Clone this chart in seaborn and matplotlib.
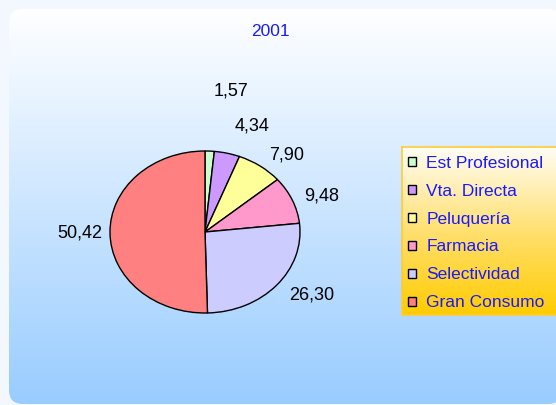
import numpy as np
import matplotlib
matplotlib.use('Agg')
import matplotlib.pyplot as plt
import seaborn as sns
from matplotlib.patches import FancyBboxPatch
from matplotlib.colors import LinearSegmentedColormap

# dati del grafico
categorie = ['Est Profesional', 'Vta. Directa', 'Peluquería', 'Farmacia', 'Selectividad', 'Gran Consumo']
valori = [1.57, 4.34, 7.90, 9.48, 26.30, 50.42]
etichette = ['1,57', '4,34', '7,90', '9,48', '26,30', '50,42']
titolo = '2001'

colori = sns.color_palette(['#ccffcc', '#cc99ff', '#ffff99', '#ff99cc', '#ccccff', '#ff8080'])
# distanza radiale delle etichette (Excel le sposta per non sovrapporle)
dist_etichette = [1.74, 1.35, 1.16, 1.13, 1.18, 1.08]

sns.set_style('white')
plt.rcParams['font.family'] = ['Liberation Sans', 'DejaVu Sans']

W, H = 556, 405
fig = plt.figure(figsize=(W / 100, H / 100), dpi=100)
fig.patch.set_facecolor('#f3f8fe')

# sfondo arrotondato con sfumatura bianco -> azzurro
bg = fig.add_axes([0, 0, 1, 1], zorder=0)
bg.set_xlim(0, W)
bg.set_ylim(H, 0)
bg.axis('off')
grad = np.linspace(0, 1, 256).reshape(-1, 1)
cmap_bg = LinearSegmentedColormap.from_list('bg', ['#ffffff', '#99ccff'])
im = bg.imshow(grad, cmap=cmap_bg, extent=[9, 562, 404, 9], aspect='auto')
box = FancyBboxPatch((9, 9), 562 - 9, 404 - 9, boxstyle='round,pad=0,rounding_size=14',
                     facecolor='none', edgecolor='none', transform=bg.transData)
bg.add_patch(box)
im.set_clip_path(box)

# torta (ellittica come in Excel)
ax = fig.add_axes([110 / W, 1 - 313 / H, 190 / W, 162 / H], zorder=2)
wedges, _ = ax.pie(valori, colors=colori, startangle=90, counterclock=False,
                   wedgeprops=dict(edgecolor='black', linewidth=1))
ax.set_aspect('auto')
ax.set_xlim(-1, 1)
ax.set_ylim(-1, 1)
ax.axis('off')

for w, txt, r in zip(wedges, etichette, dist_etichette):
    ang = np.deg2rad((w.theta1 + w.theta2) / 2)
    x, y = r * np.cos(ang), r * np.sin(ang)
    ax.text(x, y, txt, ha='left' if x > 0 else 'right', va='center',
            fontsize=13, color='black')

fig.text(270 / W, 1 - 31 / H, titolo, ha='center', va='center', color='#1a1aff', fontsize=12.5)

# riquadro legenda con sfumatura bianco -> oro
lg = fig.add_axes([402 / W, 1 - 315 / H, (562 - 402) / W, 168 / H], zorder=1)
lg.imshow(np.linspace(0, 1, 256).reshape(-1, 1),
          cmap=LinearSegmentedColormap.from_list('lg', ['#fffdf5', '#ffe070', '#ffcc00']),
          extent=[0, 1, 0, 1], aspect='auto')
lg.set_xticks([])
lg.set_yticks([])
for s in lg.spines.values():
    s.set_color('#ffcc33')
    s.set_linewidth(1.2)

lg.legend(wedges, categorie, loc='upper left', bbox_to_anchor=(-0.01, 0.995), frameon=False,
          fontsize=12.5, labelcolor='#1a1aff', handlelength=0.42, handleheight=0.42,
          handletextpad=0.62, labelspacing=0.745, borderaxespad=0.2, borderpad=0.25)

fig.savefig('out.png', dpi=100, facecolor=fig.get_facecolor())
